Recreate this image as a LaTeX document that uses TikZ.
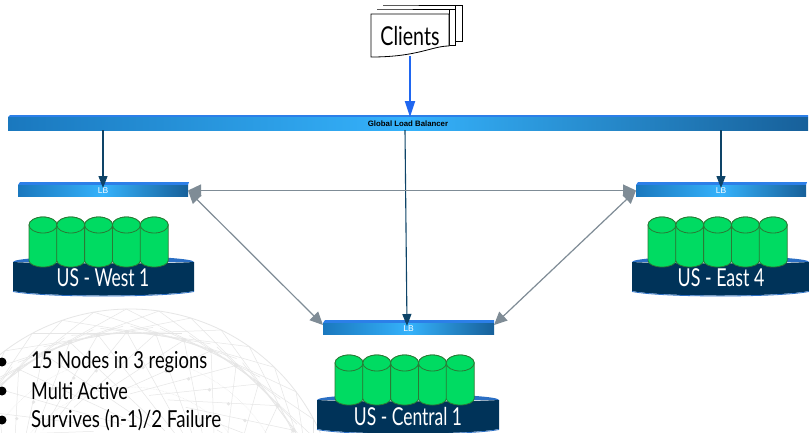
\documentclass[tikz,border=0pt]{standalone}
\usepackage{fontspec}
\setmainfont{Lato}
\newfontfamily\lbfont{Liberation Sans}
\definecolor{navy}{HTML}{003359}
\definecolor{rim}{HTML}{2B6FC4}
\definecolor{cylgreen}{HTML}{00DB62}
\definecolor{cyledge}{HTML}{2A7A35}
\definecolor{arrowblue}{HTML}{1F66F0}
\definecolor{arrowteal}{HTML}{0E4468}
\definecolor{arrowgrey}{HTML}{7F8C96}
\definecolor{meshgrey}{HTML}{E6E6E6}
\definecolor{barleft}{HTML}{1A78BE}
\definecolor{barmid}{HTML}{35B2FB}
\definecolor{barright}{HTML}{17609A}
\definecolor{bartop}{HTML}{2C7FE8}
\usetikzlibrary{arrows.meta}
\tikzset{
  lbbar/.style={inner sep=0pt,outer sep=0pt,minimum height=11pt,left color=barleft,right color=barright,middle color=barmid,shading angle=90},
  lbtext/.style={text=white,font=\lbfont\fontsize{8.5}{9}\selectfont},
  gridtext/.style={font=\lbfont\bfseries\fontsize{7.8}{8}\selectfont,text=black},
  region/.style={text=white,inner sep=0pt,font=\fontsize{19}{20}\selectfont},
  bullettext/.style={text=black,anchor=west,inner sep=0pt,font=\fontsize{18}{20}\selectfont},
  bulletdot/.style={circle,fill=black,inner sep=0pt,minimum size=9pt},
  teal arrow/.style={draw=arrowteal,line width=1.1pt,-{Triangle[length=12pt,width=9pt]}},
  grey arrow/.style={draw=arrowgrey,line width=1.2pt,{Triangle[length=13pt,width=12pt]}-{Triangle[length=13pt,width=12pt]}},
  doc/.style={draw=black,fill=white,line width=.8pt},
  cyl/.style={draw=cyledge,fill=cylgreen,line width=.8pt},
}
% cylinder: left x, top y of the ellipse, width, height
\newcommand{\dbcyl}[4]{%
  \path[cyl] (#1,#2+8) -- (#1,#2+#4-6.5) arc[start angle=180,end angle=0,x radius=#3/2,y radius=6.5]
     -- (#1+#3,#2+8) arc[start angle=0,end angle=-180,x radius=#3/2,y radius=8] -- cycle;
  \path[cyl] (#1,#2+8) arc[start angle=180,end angle=540,x radius=#3/2,y radius=8];
}
% five cylinders and the disc: left x of disc, right x of disc, first cylinder x, top y
\newcommand{\dbgroup}[4]{%
  \path[fill=rim] (#1,#4+45) arc[start angle=180,end angle=360,x radius={(#2-#1)/2},y radius=6] -- cycle;
  \path[fill=navy] (#1,#4+45) .. controls (#1+30,#4+47) and (#2-30,#4+47) .. (#2,#4+45)
     -- (#2,#4+74) .. controls (#2-30,#4+80) and (#1+30,#4+80) .. (#1,#4+74) -- cycle;
  \path[draw=rim,line width=.8pt] (#1,#4+74.5) .. controls (#1+30,#4+80.5) and (#2-30,#4+80.5) .. (#2,#4+74.5);
  \foreach \k in {0,1,2,3,4}{\dbcyl{#3+27.8*\k}{#4}{28}{50}}
}
\begin{document}
\begin{tikzpicture}[x=1pt,y=-1pt]
\useasboundingbox (0,0) rectangle (809,432);
\fill[white] (0,0) rectangle (809,432);
% globe
\begin{scope}
\clip (0,0) rectangle (809,432);
\begin{scope}[draw=meshgrey,line width=.5pt]
\draw[line width=.8pt] (130,517) circle[radius=208];
\foreach \r in {185,160,130}{\draw[densely dotted] (130,517) circle[radius=\r];}
\foreach \a in {-172,-163,...,-8}{
  \draw (130,517) ++(\a:208) -- ++(\a+118:150);
  \draw (130,517) ++(\a:208) -- ++(\a-118:150);
  \draw (130,517) ++(\a:185) -- ++(\a+152:130);
  \draw (130,517) ++(\a:185) -- ++(\a-140:110);
  \fill[meshgrey] (130,517) ++(\a:185) circle[radius=2.2];
  \fill[meshgrey] (130,517) ++(\a+6:150) circle[radius=1.8];
}
\end{scope}
\end{scope}
% clients documents
\path[doc] (383,5) -- (462,5) -- (462,41) -- (455,41) -- (455,5) -- cycle;
\path[doc] (377,9) -- (455,9) -- (455,45) -- (449,45) -- (449,9) -- cycle;
\path[doc] (371,14) -- (449,14) -- (449,46) .. controls (432,46) and (418,57) .. (371,57) -- cycle;
\node[inner sep=0pt,font=\fontsize{20}{22}\selectfont] (clients) at (410,36) {\scalebox{.98}[1.3]{Clients}};
\coordinate (clientsout) at (410,56);
% load balancers
\fill[bartop] (10,115) -- (808,115) -- (808,117) -- (8,117) -- cycle;
\node[lbbar,minimum width=800pt,minimum height=13pt,anchor=north west] (glb) at (8,117) {};
\node[gridtext] at (glb.center) {Global Load Balancer};
\fill[bartop] (20,182) -- (189,182) -- (188,185) -- (18,185) -- cycle;
\node[lbbar,minimum width=170pt,anchor=north west] (lbw) at (18,185) {};
\node[lbtext] at (lbw.center) {LB};
\fill[bartop] (638,182) -- (807,182) -- (806,185) -- (636,185) -- cycle;
\node[lbbar,minimum width=170pt,anchor=north west] (lbe) at (636,185) {};
\node[lbtext] at (lbe.center) {LB};
\fill[bartop] (325,320) -- (494,320) -- (494,323) -- (323,323) -- cycle;
\node[lbbar,minimum width=171pt,anchor=north west] (lbc) at (323,323) {};
\node[lbtext] at (lbc.center) {LB};
% connectors
\draw[draw=arrowblue,line width=2pt,-{Triangle[length=16pt,width=10pt]}] (clientsout) -- (clientsout |- glb.north);
\coordinate (gw) at (glb.south -| lbw.north);
\coordinate (ge) at (glb.south -| lbe.north);
\draw[teal arrow] (gw) -- ([yshift=-3pt]lbw.north);
\draw[teal arrow] (ge) -- ([yshift=-3pt]lbe.north);
\coordinate (gc) at (405,130);
\draw[teal arrow] (gc) -- ([xshift=-1.5pt,yshift=-3pt]lbc.north);
\draw[grey arrow] (lbw.east) -- (lbe.west);
\draw[grey arrow] (lbw.east) -- ([yshift=-2pt]lbc.north west);
\draw[grey arrow] (lbe.west) -- ([yshift=-2pt]lbc.north east);
% databases
\dbgroup{13}{194}{29}{217}
\node[region] (west) at (103,278) {\scalebox{.92}[1.3]{US - West 1}};
\dbgroup{632}{809}{648}{217}
\node[region] (east) at (721,278) {\scalebox{.94}[1.3]{US - East 4}};
\dbgroup{317}{499}{335}{355}
\node[region] (central) at (408,417) {\scalebox{.92}[1.3]{US - Central 1}};
% bullets
\node[bulletdot] (b1) at (2,362) {};
\node[bulletdot] (b2) at (2,391) {};
\node[bulletdot] (b3) at (2,420) {};
\node[bullettext] (t1) at (31,362) {\scalebox{1.02}[1.3]{15 Nodes in 3 regions}};
\node[bullettext] (t2) at (31,391) {\scalebox{1.0}[1.3]{Multi Active}};
\node[bullettext] (t3) at (31,420) {\scalebox{1.04}[1.3]{Survives (n-1)/2 Failure}};
\end{tikzpicture}
\end{document}
